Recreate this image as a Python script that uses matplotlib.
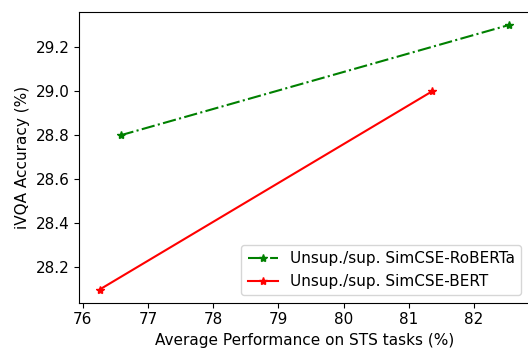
import matplotlib
matplotlib.use("Agg")
import matplotlib.pyplot as plt

# STS average vs. iVQA accuracy
roberta_x = [76.58, 82.53]
roberta_y = [28.8, 29.3]
bert_x = [76.26, 81.36]
bert_y = [28.1, 29.0]

fig, ax = plt.subplots(figsize=(5.28, 3.5), dpi=100)
ax.plot(roberta_x, roberta_y, "g-.*", label="Unsup./sup. SimCSE-RoBERTa")
ax.plot(bert_x, bert_y, "r-*", label="Unsup./sup. SimCSE-BERT")

ax.set_xlabel("Average Performance on STS tasks (%)", fontsize=11)
ax.set_ylabel("iVQA Accuracy (%)", fontsize=11)
ax.tick_params(labelsize=11)
ax.legend(loc="lower right", fontsize=11)

fig.subplots_adjust(left=0.15, right=1.002, top=0.966, bottom=0.135)
fig.savefig("out.png")
